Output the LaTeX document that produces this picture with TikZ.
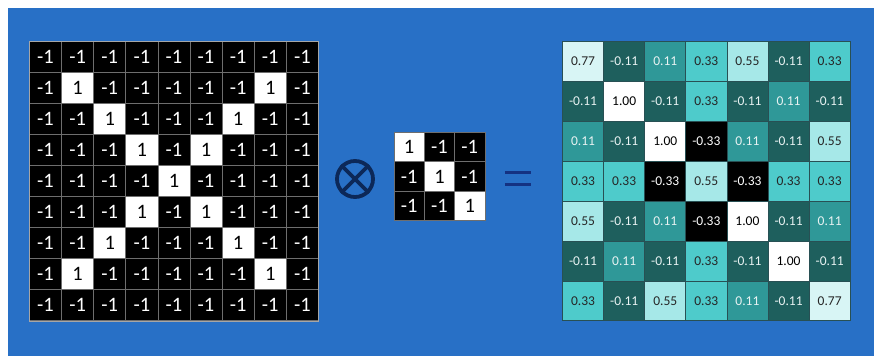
\documentclass[tikz,border=0pt]{standalone}
\usepackage{fontspec}
\setmainfont{Carlito}
\usetikzlibrary{positioning}
\definecolor{slideblue}{RGB}{40,112,198}
\definecolor{gridgray}{RGB}{110,110,110}
\definecolor{heatline}{RGB}{40,80,84}
\definecolor{opnavy}{RGB}{12,40,88}
\definecolor{eqnavy}{RGB}{20,50,130}
\definecolor{tealdark}{RGB}{30,95,93}
\definecolor{tealmid}{RGB}{47,152,152}
\definecolor{tealbright}{RGB}{78,203,203}
\definecolor{teallight}{RGB}{166,232,232}
\definecolor{tealpale}{RGB}{216,245,245}
\definecolor{inkdark}{RGB}{38,38,38}
\definecolor{inklight}{RGB}{232,242,242}

\tikzset{
  pix/.style={rectangle, draw=gridgray, line width=0.8pt, inner sep=0pt,
    minimum width=32.1pt, minimum height=31pt, font=\fontsize{20.5}{20.5}\selectfont},
  pixon/.style={pix, fill=white, text=black},
  pixoff/.style={pix, fill=black, text=white},
  kpix/.style={minimum width=30.3pt, minimum height=29.3pt},
  heat/.style={rectangle, draw=heatline, line width=0.8pt, inner sep=0pt,
    minimum width=41.1pt, minimum height=39.9pt, font=\fontsize{13.5}{13.5}\selectfont},
  cell -0.33/.style={heat, fill=black, text=white},
  cell -0.11/.style={heat, fill=tealdark, text=inklight},
  cell 0.11/.style={heat, fill=tealmid, text=inklight},
  cell 0.33/.style={heat, fill=tealbright, text=inkdark},
  cell 0.55/.style={heat, fill=teallight, text=inkdark},
  cell 0.77/.style={heat, fill=tealpale, text=inkdark},
  cell 1.00/.style={heat, fill=white, text=black},
}

\begin{document}
\begin{tikzpicture}[x=1pt,y=-1pt]
    \useasboundingbox (0,0) rectangle (874,356);
    \fill[white] (0,0) rectangle (874,356);
    \fill[slideblue] (8,8) rectangle (874,356);

    % input image, 9x9
    \foreach \r in {0,...,8} {
      \foreach \c in {0,...,8} {
        \pgfmathtruncatemacro\hit{((\r==\c) || (\r+\c==8)) && (\r>0) && (\r<8)}
        \ifnum\hit=1
          \node[pixon] (img-\r-\c) at (45.55+32.1*\c, 57+31*\r) {1};
        \else
          \node[pixoff] (img-\r-\c) at (45.55+32.1*\c, 57+31*\r) {-1};
        \fi
      }
    }
    \draw[gray!70, line width=0.8pt] (img-0-0.north west) rectangle (img-8-8.south east);

    % operator
    \node[circle, draw=opnavy, line width=3.8pt, minimum size=36pt, inner sep=0pt] (conv) at (355,179) {};
    \draw[opnavy, line width=3.8pt] (conv.north west) -- (conv.south east);
    \draw[opnavy, line width=3.8pt] (conv.north east) -- (conv.south west);

    % kernel, 3x3
    \foreach \r in {0,1,2} {
      \foreach \c in {0,1,2} {
        \ifnum\r=\c
          \node[pixon, kpix] (ker-\r-\c) at (409.15+30.3*\c, 147.15+29.3*\r) {1};
        \else
          \node[pixoff, kpix] (ker-\r-\c) at (409.15+30.3*\c, 147.15+29.3*\r) {-1};
        \fi
      }
    }

    % equals
    \node[minimum width=26pt, minimum height=11.4pt, inner sep=0pt] (eq) at (518,178.5) {};
    \draw[eqnavy, line width=3.6pt] (eq.north west) -- (eq.north east);
    \draw[eqnavy, line width=3.6pt] (eq.south west) -- (eq.south east);

    % feature map, 7x7
    \foreach \row [count=\r from 0] in {
        {0.77,-0.11,0.11,0.33,0.55,-0.11,0.33},
        {-0.11,1.00,-0.11,0.33,-0.11,0.11,-0.11},
        {0.11,-0.11,1.00,-0.33,0.11,-0.11,0.55},
        {0.33,0.33,-0.33,0.55,-0.33,0.33,0.33},
        {0.55,-0.11,0.11,-0.33,1.00,-0.11,0.11},
        {-0.11,0.11,-0.11,0.33,-0.11,1.00,-0.11},
        {0.33,-0.11,0.55,0.33,0.11,-0.11,0.77}} {
      \foreach \v [count=\c from 0] in \row {
        \node[cell \v] (map-\r-\c) at (583.05+41.1*\c, 61.45+39.9*\r) {\v};
      }
    }
\end{tikzpicture}
\end{document}
